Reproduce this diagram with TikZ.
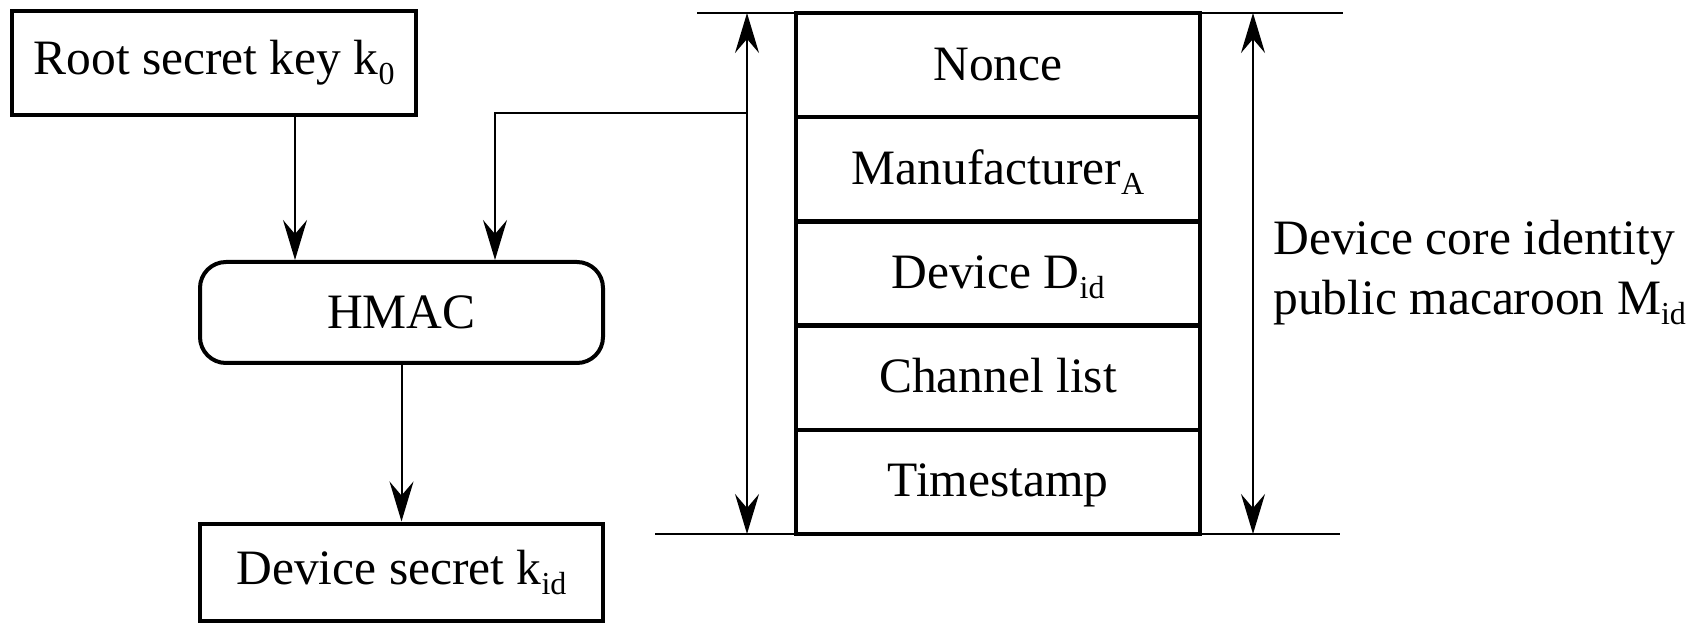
\documentclass[tikz,border=0pt]{standalone}
\usepackage{fontspec}
\setmainfont{Liberation Serif}
\usetikzlibrary{arrows.meta}
\newcommand\lowsub[1]{\raisebox{-5pt}{\fontsize{16pt}{16pt}\selectfont #1}}
\begin{document}
\begin{tikzpicture}[x=0.5pt,y=-0.5pt,
  txt/.style={font=\fontsize{24.75pt}{30pt}\selectfont},
  keybox/.style={draw,line width=2pt,inner sep=0pt,txt,minimum width=202pt,minimum height=52pt,text height=16pt,text depth=4pt},
  hmacbox/.style={draw,line width=2pt,inner sep=0pt,txt,rounded corners=13pt,minimum width=201.5pt,minimum height=50.5pt,text height=18.5pt,text depth=2pt},
  rowbox/.style={draw,line width=2.2pt,inner sep=0pt,txt,minimum width=202pt,minimum height=52.1pt,text height=17pt,text depth=2pt},
  thinline/.style={line width=1pt},
  arr/.style={line width=1pt,-{Stealth[length=20pt,width=12pt,inset=7pt]}},
  dimarr/.style={line width=1pt,{Stealth[length=20pt,width=12pt,inset=7pt]}-{Stealth[length=20pt,width=12pt,inset=7pt]}},
  lbl/.style={txt,inner sep=0pt,anchor=base west}
]
\useasboundingbox (0,0) rectangle (1707,625);

% left column
\node[keybox] (root) at (214,63) {Root secret key k\lowsub{0}};
\node[hmacbox] (hmac) at (401.5,312.5) {HMAC};
\node[keybox,minimum width=201.5pt,minimum height=48.5pt,text height=16.5pt] (dev) at (401.5,572) {Device secret k\lowsub{id}};

% stack
\node[rowbox] (r1) at (998,65.1) {Nonce};
\node[rowbox] (r2) at (998,169.3) {Manufacturer\lowsub{A}};
\node[rowbox] (r3) at (998,273.5) {Device D\lowsub{id}};
\node[rowbox] (r4) at (998,377.7) {Channel list};
\node[rowbox] (r5) at (998,481.9) {Timestamp};

% extent lines
\coordinate (tl) at (697,13);
\coordinate (tr) at (1343,13);
\coordinate (bl) at (655,534);
\coordinate (br) at (1340,534);
\draw[thinline] (tl) -- (tr);
\draw[thinline] (bl) -- (br);

\coordinate (lat) at (747,13);
\coordinate (lab) at (747,534);
\coordinate (rat) at (1253,13);
\coordinate (rab) at (1253,534);
\draw[dimarr] (lab) -- (lat);
\draw[dimarr] (rab) -- (rat);

% connectors
\coordinate (hin) at (295,0);
\coordinate (hin2) at (495,0);
\coordinate (tap) at (747,113);
\draw[arr] (root.south -| hin) -- (hmac.north -| hin);
\draw[arr] (tap) -| (hin2 |- hmac.north);
\draw[arr] (hmac.south) -- (dev.north);

% label
\node[lbl] (lab1) at (1273,255) {Device core identity};
\node[lbl] (lab2) at (1273,315) {public macaroon M\lowsub{id}};
\end{tikzpicture}
\end{document}
